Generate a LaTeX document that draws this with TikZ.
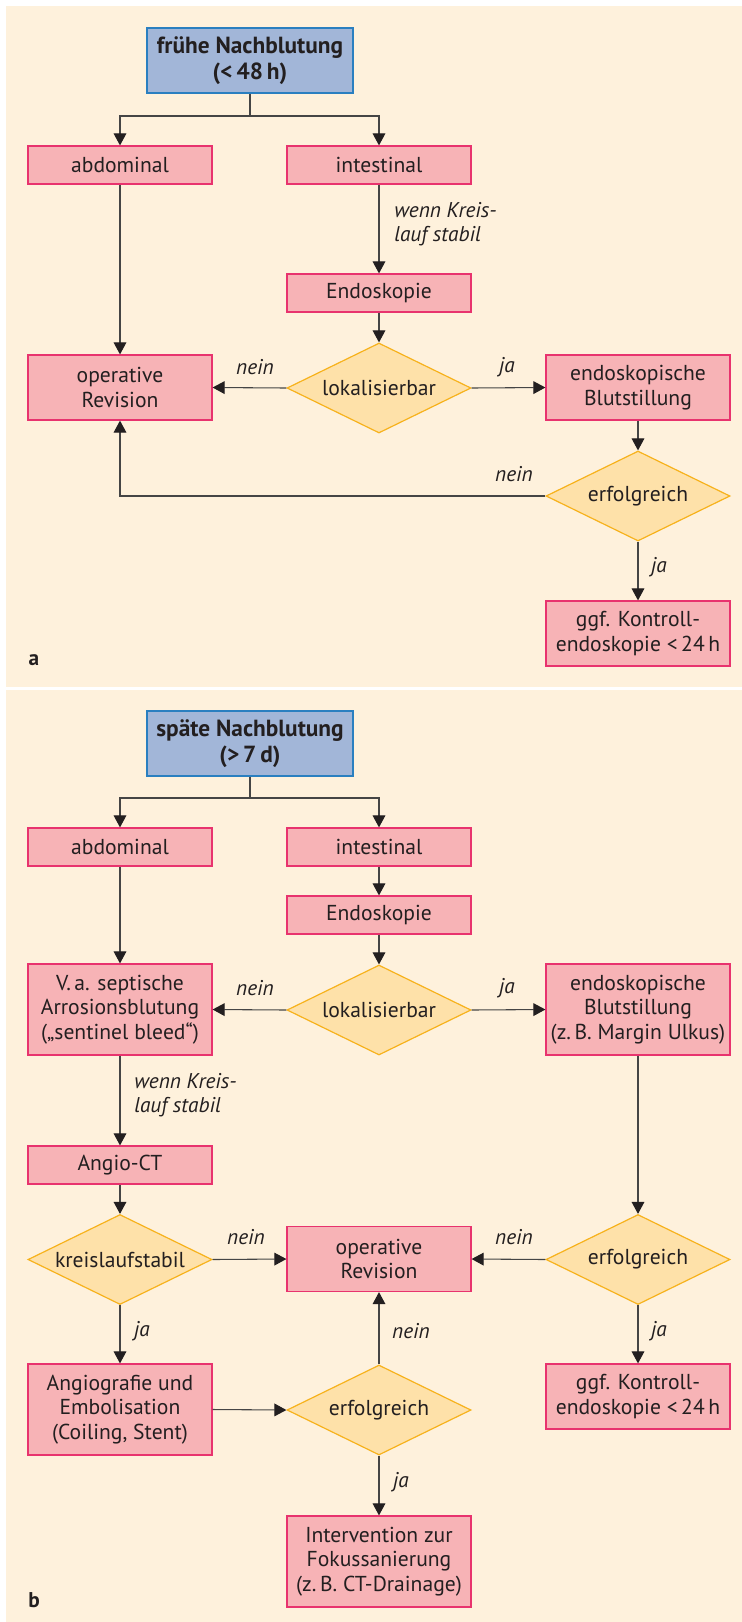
\documentclass[tikz,border=0pt]{standalone}
\usepackage{fontspec}
\setmainfont{PT Sans}
\usetikzlibrary{shapes.geometric,arrows.meta}
\definecolor{cream}{HTML}{FEF1DC}
\definecolor{bluefill}{HTML}{A2B6D8}
\definecolor{blueline}{HTML}{2A7FC0}
\definecolor{pinkfill}{HTML}{F7B3B6}
\definecolor{pinkline}{HTML}{E8336E}
\definecolor{diafill}{HTML}{FEE1A9}
\definecolor{dialine}{HTML}{F7B21C}
\definecolor{conn}{HTML}{454545}
\definecolor{tipc}{HTML}{231F20}
\definecolor{txt}{HTML}{231F20}
\tikzset{
  basefont/.style={font=\fontsize{16.2pt}{18.5pt}\selectfont, text=txt},
  headbox/.style={font=\fontsize{17.5pt}{19pt}\selectfont\bfseries, text=txt, draw=blueline, fill=bluefill, line width=0.9pt, minimum width=154.5pt, minimum height=48.75pt, inner sep=0pt, align=center},
  pbox/.style={basefont, draw=pinkline, fill=pinkfill, line width=0.9pt, minimum width=138pt, minimum height=28.5pt, inner sep=0pt, align=center},
  pbox2/.style={pbox, minimum height=48.75pt},
  pbox3/.style={pbox, minimum height=68.25pt},
  dbox/.style={basefont, shape=diamond, shape aspect=2.05, draw=dialine, fill=diafill, line width=0.9pt, minimum width=138pt, minimum height=67.5pt, inner sep=0pt, align=center},
  lbl/.style={font=\fontsize{16pt}{18.5pt}\selectfont\itshape, text=txt, inner sep=0pt},
  lblL/.style={lbl, align=left, anchor=west},
  panel/.style={font=\fontsize{16pt}{18pt}\selectfont\bfseries, text=txt, inner sep=0pt},
  arr/.style={draw=conn, line width=0.8pt, -{Triangle[length=9pt,width=9.5pt,color=tipc]}},
  ln/.style={draw=conn, line width=0.8pt}
}
\begin{document}
\begin{tikzpicture}[x=0.75pt,y=-0.75pt]
\useasboundingbox (0,0) rectangle (742,1622);
\fill[cream] (6,6) rectangle (742,687);
\fill[cream] (6,690) rectangle (742,1622);

% ---------------- panel a ----------------
\node[headbox] (blueA) at (250,60.5) {frühe Nachblutung\\(<\,48\,h)};
\node[pbox] (abdA) at (120,165) {abdominal};
\node[pbox] (intA) at (379,165) {intestinal};
\node[pbox] (endA) at (379,293) {Endoskopie};
\node[dbox] (lokA) at (379,388) {lokalisierbar};
\node[pbox2] (opA) at (120,387.5) {operative\\Revision};
\node[pbox2] (blutA) at (638,387.5) {endoskopische\\Blutstillung};
\node[dbox] (erfA) at (638,496) {erfolgreich};
\node[pbox2] (ggfA) at (638,633.5) {ggf. Kontroll-\\endoskopie <\,24\,h};
\coordinate (sA) at (250,116);

\draw[ln] (blueA.south) -- (sA);
\draw[arr] (sA) -| (abdA.north);
\draw[arr] (sA) -| (intA.north);
\draw[arr] (intA.south) -- (endA.north);
\draw[arr] (endA.south) -- (lokA.north);
\draw[arr] (abdA.south) -- (opA.north);
\draw[arr] (lokA.west) -- (opA.east);
\draw[arr] (lokA.east) -- (blutA.west);
\draw[arr] (blutA.south) -- (erfA.north);
\draw[arr] (erfA.west) -| (opA.south);
\draw[arr] (erfA.south) -- (ggfA.north);

\node[lblL] (wennA) at (394,224) {wenn Kreis-\\lauf stabil};
\node[lbl] (neinA1) at (255,367) {nein};
\node[lbl] (jaA1) at (507,367) {ja};
\node[lbl] (neinA2) at (514,474) {nein};
\node[lbl] (jaA2) at (659,567) {ja};
\node[panel] (labA) at (34,660) {a};

% ---------------- panel b ----------------
\node[headbox] (blueB) at (250,743.5) {späte Nachblutung\\(>\,7\,d)};
\node[pbox] (abdB) at (120,847) {abdominal};
\node[pbox] (intB) at (379,847) {intestinal};
\node[pbox] (endB) at (379,915) {Endoskopie};
\node[dbox] (lokB) at (379,1010) {lokalisierbar};
\node[pbox3] (vaB) at (120,1009.5) {V.\,a. septische\\Arrosionsblutung\\(„sentinel bleed“)};
\node[pbox3] (blutB) at (638,1009.5) {endoskopische\\Blutstillung\\(z.\,B. Margin Ulkus)};
\node[pbox] (ctB) at (120,1165) {Angio-CT};
\node[dbox] (kreisB) at (120,1259.5) {kreislaufstabil};
\node[pbox2] (opB) at (379,1259) {operative\\Revision};
\node[dbox] (erfB1) at (638,1259.5) {erfolgreich};
\node[pbox2] (ggfB) at (638,1396.5) {ggf. Kontroll-\\endoskopie <\,24\,h};
\node[pbox3] (angB) at (120,1409.5) {Angiografie und\\Embolisation\\(Coiling, Stent)};
\node[dbox] (erfB2) at (379,1410) {erfolgreich};
\node[pbox3] (intvB) at (379,1561.5) {Intervention zur\\Fokussanierung\\(z.\,B. CT-Drainage)};
\coordinate (sB) at (250,798);

\draw[ln] (blueB.south) -- (sB);
\draw[arr] (sB) -| (abdB.north);
\draw[arr] (sB) -| (intB.north);
\draw[arr] (intB.south) -- (endB.north);
\draw[arr] (endB.south) -- (lokB.north);
\draw[arr] (abdB.south) -- (vaB.north);
\draw[arr] (lokB.west) -- (vaB.east);
\draw[arr] (lokB.east) -- (blutB.west);
\draw[arr] (vaB.south) -- (ctB.north);
\draw[arr] (ctB.south) -- (kreisB.north);
\draw[arr] (kreisB.east) -- (opB.west);
\draw[arr] (erfB1.west) -- (opB.east);
\draw[arr] (blutB.south) -- (erfB1.north);
\draw[arr] (erfB1.south) -- (ggfB.north);
\draw[arr] (kreisB.south) -- (angB.north);
\draw[arr] (angB.east) -- (erfB2.west);
\draw[arr] (erfB2.north) -- (opB.south);
\draw[arr] (erfB2.south) -- (intvB.north);

\node[lblL] (wennB) at (134,1095) {wenn Kreis-\\lauf stabil};
\node[lbl] (neinB1) at (255,988) {nein};
\node[lbl] (jaB1) at (507,988) {ja};
\node[lbl] (neinB2) at (246,1237) {nein};
\node[lbl] (neinB3) at (514,1237) {nein};
\node[lbl] (jaB2) at (142,1331) {ja};
\node[lbl] (jaB3) at (659,1331) {ja};
\node[lbl] (neinB4) at (411,1331) {nein};
\node[lbl] (jaB4) at (401,1482) {ja};
\node[panel] (labB) at (34,1600) {b};
\end{tikzpicture}
\end{document}
